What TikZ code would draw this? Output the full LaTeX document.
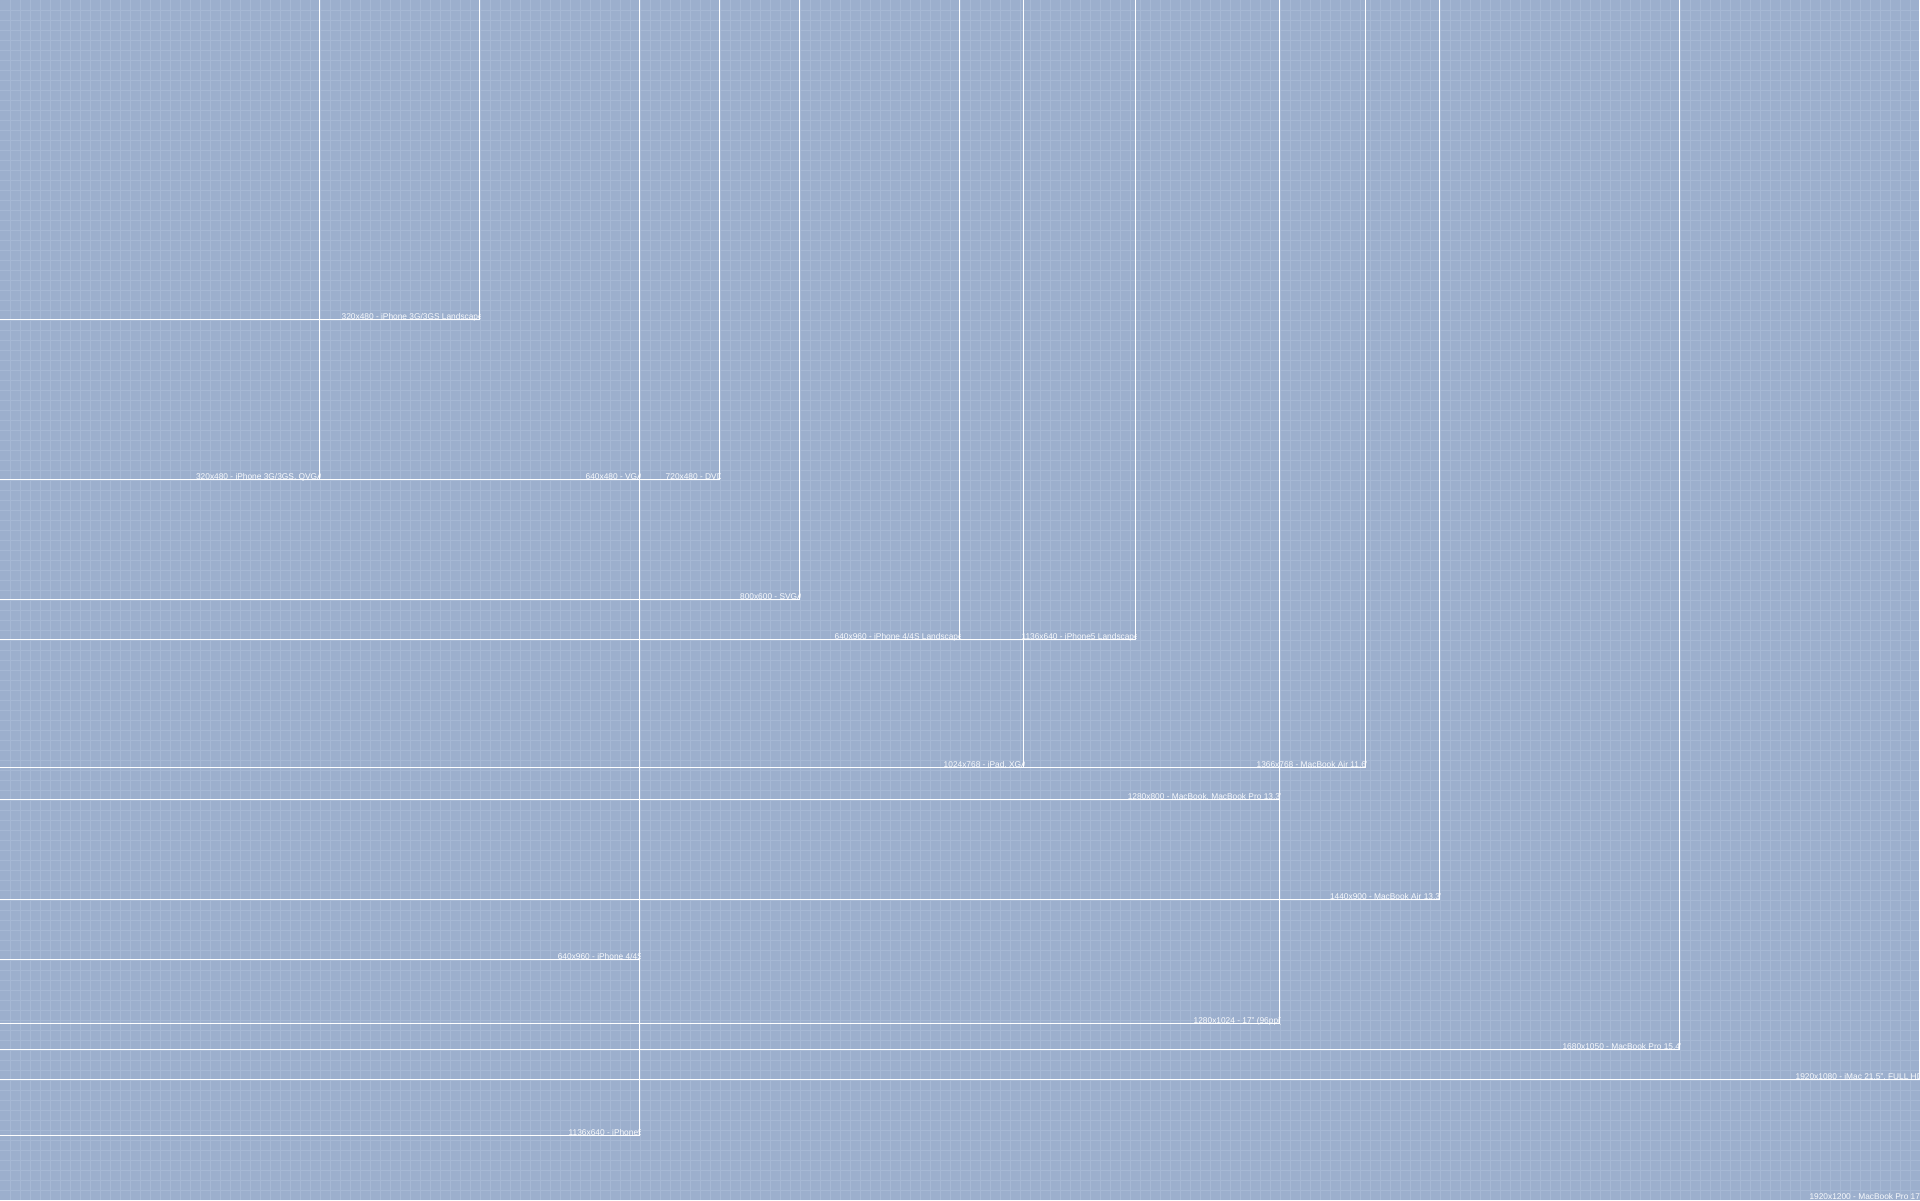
\documentclass[tikz,border=0pt]{standalone}
\usepackage{fontspec}
\setmainfont{Liberation Sans}
\definecolor{bgblue}{RGB}{156,175,205}
\definecolor{gridblue}{RGB}{166,184,212}
\definecolor{labelwhite}{RGB}{248,250,253}
\newcommand{\resbox}[4]{\begin{scope}\clip (0,0) rectangle (#1,#2);\node[reslabel] (#3) at (#1+3,#2-1) {#4};\end{scope}}
\newcommand{\resedge}[2]{\draw[boxline] (0,#2-0.5) -- (#1-0.5,#2-0.5) -- (#1-0.5,0);}
\begin{document}
\begin{tikzpicture}[x=1pt,y=-1pt,
  boxline/.style={white,line width=1pt},
  gridline/.style={gridblue,line width=1pt},
  reslabel/.style={anchor=base east,inner sep=0pt,text=labelwhite,font=\fontsize{8.35}{9}\selectfont}]
\useasboundingbox (0,0) rectangle (1920,1200);
\fill[bgblue] (0,0) rectangle (1920,1200);
\foreach \i in {1,...,191} \draw[gridline] (\i*10+0.5,0) -- (\i*10+0.5,1200);
\foreach \j in {1,...,119} \draw[gridline] (0,\j*10+0.5) -- (1920,\j*10+0.5);
% labels
\resbox{480}{320}{l1}{320x480 - iPhone 3G/3GS Landscape}
\resbox{320}{480}{l2}{320x480 - iPhone 3G/3GS, QVGA}
\resbox{640}{480}{l3}{640x480 - VGA}
\resbox{720}{480}{l4}{720x480 - DVD}
\resbox{800}{600}{l5}{800x600 - SVGA}
\resbox{960}{640}{l6}{640x960 - iPhone 4/4S Landscape}
\resbox{1136}{640}{l7}{1136x640 - iPhone5 Landscape}
\resbox{1024}{768}{l8}{1024x768 - iPad, XGA}
\resbox{1366}{768}{l9}{1366x768 - MacBook Air 11.6"}
\resbox{1280}{800}{l10}{1280x800 - MacBook, MacBook Pro 13.3"}
\resbox{1440}{900}{l11}{1440x900 - MacBook Air 13.3"}
\resbox{640}{960}{l12}{640x960 - iPhone 4/4S}
\resbox{1280}{1024}{l13}{1280x1024 - 17" (96ppi)}
\resbox{1680}{1050}{l14}{1680x1050 - MacBook Pro 15.4"}
\resbox{1920}{1080}{l15}{1920x1080 - iMac 21.5", FULL HD}
\resbox{640}{1136}{l16}{1136x640 - iPhone5}
\resbox{1920}{1200}{l17}{1920x1200 - MacBook Pro 17"}
% box edges
\resedge{480}{320}
\resedge{320}{480}
\resedge{640}{480}
\resedge{720}{480}
\resedge{800}{600}
\resedge{960}{640}
\resedge{1136}{640}
\resedge{1024}{768}
\resedge{1366}{768}
\resedge{1280}{800}
\resedge{1440}{900}
\resedge{640}{960}
\resedge{1280}{1024}
\resedge{1680}{1050}
\resedge{1920}{1080}
\resedge{640}{1136}
\end{tikzpicture}
\end{document}
